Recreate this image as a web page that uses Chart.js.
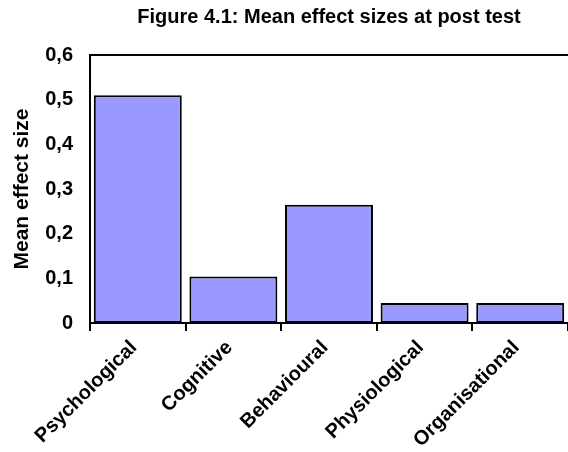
<!DOCTYPE html>
<html>
<head>
<meta charset="utf-8">
<title>Mean effect sizes at post test</title>
<script src="https://cdn.jsdelivr.net/npm/chart.js@4/dist/chart.umd.min.js"></script>
<style>
  html, body { margin: 0; padding: 0; background: #ffffff; }
  #wrap { width: 568px; height: 452px; overflow: hidden; }
</style>
</head>
<body>
<div id="wrap"><canvas id="chart" width="568" height="452"></canvas></div>
<script>
// Outcome categories and their mean effect sizes at post test
const categories = ['Psychological', 'Cognitive', 'Behavioural', 'Physiological', 'Organisational'];
const meanEffectSize = [0.51, 0.104, 0.265, 0.045, 0.045];
const yTickValues = [0, 0.1, 0.2, 0.3, 0.4, 0.5, 0.6];
const yTickLabels = ['0', '0,1', '0,2', '0,3', '0,4', '0,5', '0,6'];

const FONT_FAMILY = '"Liberation Sans", Arial, Helvetica, sans-serif';
const boldFont = size => ({ family: FONT_FAMILY, size, weight: 'bold' });

// Closes the plot frame along its upper edge
const topFrame = {
  id: 'topFrame',
  afterDatasetsDraw(chart) {
    const { ctx, chartArea } = chart;
    ctx.save();
    ctx.strokeStyle = '#000000';
    ctx.lineWidth = 2;
    ctx.beginPath();
    ctx.moveTo(chartArea.left, chartArea.top);
    ctx.lineTo(chartArea.right + 2, chartArea.top);
    ctx.stroke();
    ctx.restore();
  }
};

new Chart(document.getElementById('chart'), {
  type: 'bar',
  data: {
    labels: categories,
    datasets: [{
      label: 'Mean effect size',
      data: meanEffectSize,
      backgroundColor: '#9999FF',
      borderColor: '#000000',
      borderWidth: 2,
      borderSkipped: false,
      categoryPercentage: 1.0,
      barPercentage: 0.92
    }]
  },
  options: {
    responsive: false,
    animation: false,
    layout: { padding: { left: 0, right: -5, top: 0, bottom: 0 } },
    plugins: {
      legend: { display: false },
      tooltip: { enabled: false },
      title: {
        display: true,
        text: 'Figure 4.1: Mean effect sizes at post test',
        color: '#000000',
        fullSize: false,
        font: boldFont(20),
        padding: { top: 5, bottom: 26 }
      }
    },
    scales: {
      x: {
        grid: {
          display: true,
          offset: true,
          drawOnChartArea: false,
          drawTicks: true,
          tickLength: 8,
          color: '#000000',
          lineWidth: 2
        },
        border: { display: true, color: '#000000', width: 2 },
        ticks: {
          autoSkip: false,
          minRotation: 45,
          maxRotation: 45,
          padding: 5,
          labelOffset: -4,
          color: '#000000',
          font: boldFont(20)
        },
        afterFit(scale) { scale.height = 129; }
      },
      y: {
        min: 0,
        max: 0.6,
        afterBuildTicks(scale) {
          scale.ticks = yTickValues.map(v => ({ value: v }));
        },
        grid: { display: false, drawTicks: false },
        border: { display: true, color: '#000000', width: 2 },
        ticks: {
          padding: 17,
          color: '#000000',
          font: boldFont(20),
          callback(value) {
            const i = yTickValues.findIndex(v => Math.abs(v - value) < 1e-9);
            return i >= 0 ? yTickLabels[i] : '';
          }
        },
        title: {
          display: true,
          text: 'Mean effect size',
          color: '#000000',
          font: boldFont(21),
          padding: { top: 10, bottom: 0 }
        },
        afterFit(scale) { scale.width = 90; }
      }
    }
  },
  plugins: [topFrame]
});
</script>
</body>
</html>
